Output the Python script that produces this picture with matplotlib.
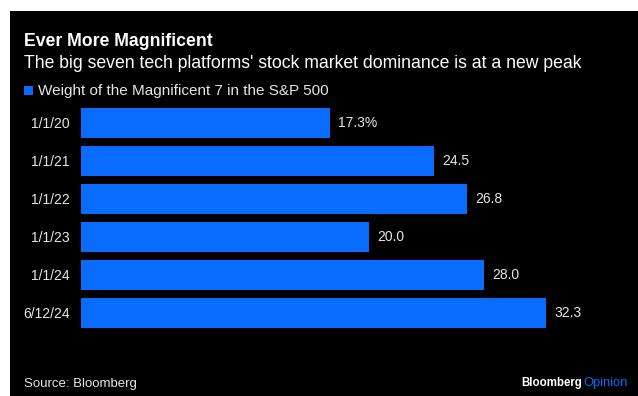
import matplotlib.pyplot as plt
from matplotlib.patches import Rectangle

dates = ["1/1/20", "1/1/21", "1/1/22", "1/1/23", "1/1/24", "6/12/24"]
weights = [17.3, 24.5, 26.8, 20.0, 28.0, 32.3]
value_labels = ["17.3%", "24.5", "26.8", "20.0", "28.0", "32.3"]

blue = "#0a6cff"
txt = "#e6e6e6"
W, H = 638, 396

plt.rcParams["font.family"] = ["Liberation Sans", "DejaVu Sans"]

fig = plt.figure(figsize=(W / 100, H / 100), dpi=100, facecolor="white")
fig.patches.append(Rectangle((10 / W, 0), 1, 1 - 11 / H, transform=fig.transFigure,
                             facecolor="black", edgecolor="none", zorder=-10))

ax = fig.add_axes([81 / W, 1 - 332 / H, 547 / W, 228 / H])
ax.set_zorder(5)
ax.set_facecolor("none")
pos = list(range(len(dates)))
ax.barh(pos, weights, height=0.79, color=blue)
for p, v, lab in zip(pos, weights, value_labels):
    ax.annotate(lab, (v, p), xytext=(6, 0), textcoords="offset points",
                va="center", ha="left", color=txt, fontsize=10)
ax.set_xlim(0, 38)
ax.set_ylim(len(dates) - 0.5, -0.5)
ax.set_yticks(pos)
ax.set_yticklabels(dates, color=txt, fontsize=10)
ax.tick_params(axis="y", length=0, pad=8)
ax.set_xticks([])
for s in ax.spines.values():
    s.set_visible(False)

fig.text(24 / W, 1 - 42 / H, "Ever More Magnificent", color="white", fontsize=12.7,
         fontweight="bold", va="center")
fig.text(24 / W, 1 - 63 / H, "The big seven tech platforms' stock market dominance is at a new peak",
         color="white", fontsize=12.7, va="center")
fig.patches.append(Rectangle((24 / W, 1 - 95 / H), 9 / W, 9 / H, transform=fig.transFigure,
                             facecolor=blue, edgecolor="none"))
fig.text(38 / W, 1 - 90.5 / H, "Weight of the Magnificent 7 in the S&P 500", color=txt,
         fontsize=11, va="center")
fig.text(24 / W, 1 - 384 / H, "Source: Bloomberg", color=txt, fontsize=9.5, va="center")
fig.text(628 / W, 1 - 383 / H, "Opinion", color=blue, fontsize=9.3, va="center", ha="right")
fig.text(582 / W, 1 - 383 / H, "Bloomberg", color="white", fontsize=8.3, va="center",
         ha="right", fontweight="bold")

fig.savefig("out.png", dpi=100, facecolor="white")
